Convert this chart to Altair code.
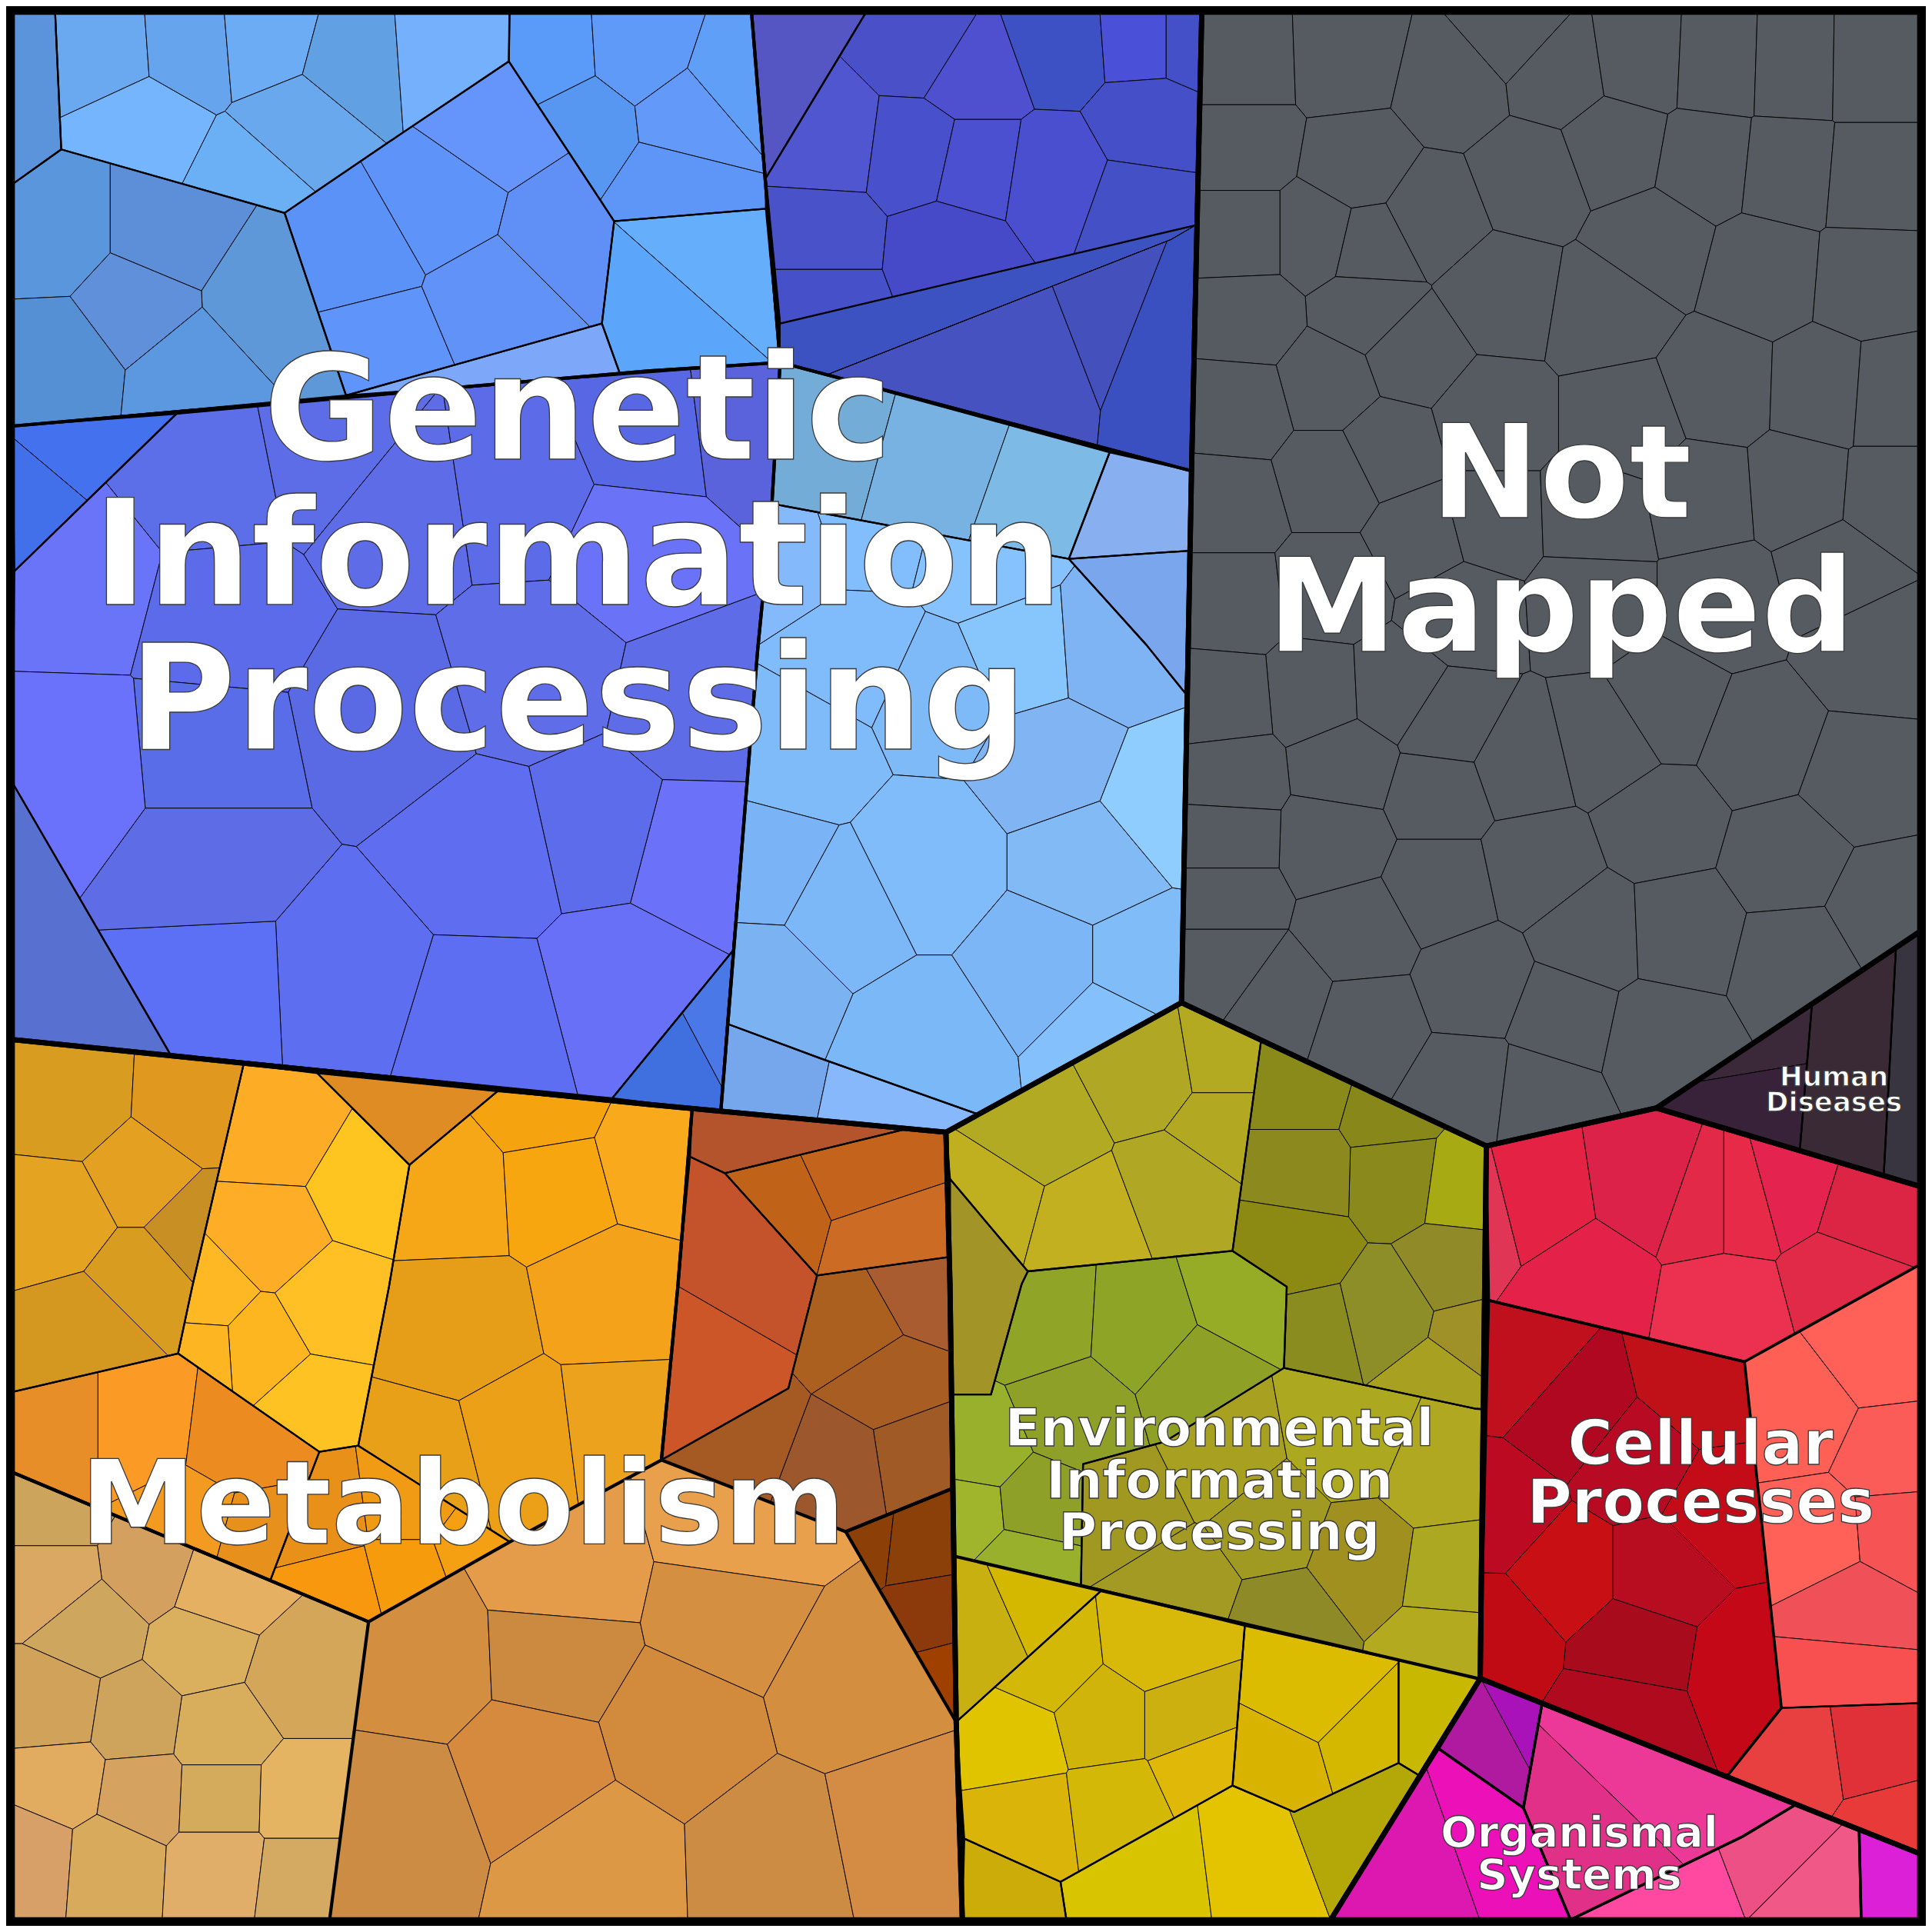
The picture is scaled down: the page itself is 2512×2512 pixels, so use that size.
import altair as alt

# ---------------- geometry scale (reference drawn on a 1568 grid) ----------------
GRID = 1568
SIZE = 2496
S = SIZE / GRID

FRAME = [(0, 0), (1568, 0), (1568, 1568), (0, 1568)]

# ---------------- top-level categories ----------------
TOP_NAMES = ["Genetic Information Processing", "Not Mapped", "Human Diseases",
             "Cellular Processes", "Organismal Systems",
             "Environmental Information Processing", "Metabolism"]
TOP_POLYS = [
    [(5, 5), (976.6, 5), (968.2, 379.6), (960, 814), (767.6, 919.8), (524, 897), (5, 844)],
    [(976.6, 5), (1563, 5), (1563, 756), (1348, 900), (1209, 931), (960, 814), (968.2, 379.6)],
    [(1348, 900), (1563, 756), (1563, 964)],
    [(1209, 931), (1348, 900), (1563, 964), (1563, 1509), (1204, 1366)],
    [(1204, 1366), (1563, 1509), (1563, 1563), (1082, 1563)],
    [(767.6, 919.8), (960, 814), (1209, 931), (1204, 1366), (1082, 1563), (781, 1563), (776, 1401.5), (770.9, 1043.7)],
    [(5, 844), (524, 897), (767.6, 919.8), (770.9, 1043.7), (776, 1401.5), (781, 1563), (5, 1563)],
]

# ---------------- intermediate groups ----------------
MID_POLYS = [
    [(5, 5), (608.8, 5), (632.2, 291), (524, 298), (5, 343)],
    [(608.8, 5), (976.6, 5), (968.2, 379.6), (632.2, 291)],
    [(5, 343), (524, 298), (632.2, 291), (625.5, 406.4), (613.8, 526.2), (583.7, 903), (524, 897), (5, 844)],
    [(632.2, 291), (968.2, 379.6), (960, 814), (767.6, 919.8), (583.7, 903), (613.8, 526.2), (625.5, 406.4)],
    [(774, 1266), (1204.2, 1366.4), (1082, 1563), (781, 1563), (776, 1401.5)],
    [(5, 844), (560.3, 900.5), (548.6, 1046.1), (535.2, 1187.5), (411.3, 1254.4), (296, 1319.6), (5, 1197.5)],
    [(560.3, 900.5), (767.6, 919.8), (770.9, 1043.7), (772.6, 1210.9), (685.7, 1246), (535.2, 1187.5), (548.6, 1046.1)],
    [(685.7, 1246), (772.6, 1210.9), (776, 1401.5)],
    [(5, 1197.5), (296, 1319.6), (264.2, 1563), (5, 1563)],
]

# ---------------- sub-categories: outline, cell seeds, cell colours ----------------
GIP_REGIONS = [
    dict(poly=[(5, 5), (40, 5), (45, 117), (5, 145.5)], seeds=[(22, 70)], colors=["#5b94db"]),
    dict(poly=[(40, 5), (411, 5), (410.6, 45.1), (321, 105.3), (227.4, 168.9), (45, 117)],
         seeds=[(80, 35), (110, 100), (150, 30), (210, 25), (240, 100), (200, 145), (285, 45), (355, 40)],
         colors=["#6aa9f0", "#75b5fd", "#66a4ee", "#6cacf4", "#6aa8ee", "#6bb0f4", "#62a0e4", "#74b0fc"]),
    dict(poly=[(5, 145.5), (45, 117), (227.4, 168.9), (277.6, 318), (5, 343)],
         seeds=[(40, 185), (130, 185), (215, 240), (105, 245), (45, 290), (150, 300)],
         colors=["#5a96dc", "#5d8fd8", "#5e98d8", "#6090da", "#5590d5", "#5c98e0"]),
    dict(poly=[(227.4, 168.9), (321, 105.3), (410.6, 45.1), (496.6, 175.6), (486.6, 259.2), (277.6, 318)],
         seeds=[(285, 200), (355, 160), (305, 280), (400, 240), (398, 98), (455, 185)],
         colors=["#5b92f8", "#5e94fa", "#5f95fa", "#6092f8", "#6595fa", "#608ff5"]),
    dict(poly=[(277.6, 318), (486.6, 259.2), (501.6, 301)], seeds=[(420, 292)], colors=["#7da8fa"]),
    dict(poly=[(411.3, 5), (608.8, 5), (620.5, 140.4), (620.5, 165.5), (496.6, 175.6), (410.6, 45.1)],
         seeds=[(440, 40), (520, 35), (470, 100), (560, 90), (545, 150), (595, 60)],
         colors=["#5a9af8", "#5f9af8", "#5797f2", "#6399f8", "#5e96f8", "#609ff8"]),
    dict(poly=[(496.6, 175.6), (620.5, 165.5), (632.2, 291), (501.6, 301), (486.6, 259.2)],
         seeds=[(591, 220), (551, 265)], colors=["#64aefc", "#5ba6fb"]),
    dict(poly=[(608.8, 5), (702.4, 5), (620.5, 140.4)], seeds=[(640, 40)], colors=["#5556c4"]),
    dict(poly=[(702.4, 5), (976.6, 5), (971.6, 178.9), (632.2, 259.2), (620.5, 140.4)],
         seeds=[(750, 30), (670, 110), (860, 30), (790, 55), (930, 25), (965, 25), (745, 120), (790, 130),
                (855, 140), (935, 95), (925, 165), (665, 190), (665, 240), (770, 200)],
         colors=["#4a50c8", "#5055d0", "#3d50c4", "#4e50d0", "#4a50d8", "#4450c8", "#4850cc", "#4a50d0",
                 "#4a4fcf", "#4550c8", "#4451c6", "#4a52c9", "#4650c8", "#4649c8"]),
    dict(poly=[(632.2, 259.2), (971.6, 178.9), (951.5, 190.6), (670.6, 301), (632.2, 291)],
         seeds=[(800, 230)], colors=["#3c52c0"], w=0.9),
    dict(poly=[(670.6, 301), (951.5, 190.6), (971.6, 178.9), (968.2, 379.6)],
         seeds=[(852.8, 276.6), (888, 263), (944, 285)], colors=["#4652c0", "#4450bc", "#3a50c0"], w=0.9),
    dict(poly=[(5, 343), (139, 333), (6.7, 461.6)], seeds=[(60, 360), (22, 405)], colors=["#4471ee", "#4270ea"]),
    dict(poly=[(5, 634), (134, 856), (5, 844)], seeds=[(45, 780)], colors=["#5870d0"]),
    dict(poly=[(495, 892), (594, 771), (584, 903)], seeds=[(545, 865), (592, 840)], colors=["#4070e0", "#4a78e6"]),
    dict(poly=[(139, 333), (524, 298), (632.2, 291), (625.5, 406.4), (613.8, 526.2), (594, 771), (495, 892),
               (134, 856), (5, 634), (6.7, 461.6)],
         seeds=[(165, 385), (60, 470), (175, 500), (265, 365), (320, 410), (310, 580), (420, 395), (525, 350),
                (605, 340), (515, 440), (430, 545), (565, 575), (562, 690), (485, 670), (395, 690), (505, 800),
                (390, 830), (275, 795), (170, 800), (165, 700), (165, 610), (55, 620)],
         colors=["#5d6ee9", "#6a74f8", "#5c6bea", "#5d6de8", "#5f6ce8", "#5a6ae5", "#5c6ce8", "#5868e4",
                 "#5b63dc", "#6a72f7", "#5f6de9", "#5e6ce8", "#6b72f9", "#5c6ceb", "#5f6ef0", "#6870f7",
                 "#5d6ef2", "#5e6ef0", "#5b70f5", "#5e6ce6", "#5a6de8", "#6a72fb"]),
    dict(poly=[(632.2, 291), (901.3, 364.5), (868, 451.5), (625.5, 406.4)],
         seeds=[(668, 350), (760, 375), (845, 405)], colors=["#74acd8", "#77b2e2", "#7ebae6"]),
    dict(poly=[(901.3, 364.5), (968.2, 379.6), (966.6, 444.8), (868, 451.5)], seeds=[(925, 410)], colors=["#88b0f0"]),
    dict(poly=[(868, 451.5), (966.6, 444.8), (963.2, 561.3), (931.4, 521.8)], seeds=[(940, 490)], colors=["#7aa6ee"]),
    dict(poly=[(588.7, 831.1), (665.6, 859.6), (792.7, 904.7), (767.6, 919.8), (583.7, 903)],
         seeds=[(620, 875), (715, 895)], colors=["#76a6ec", "#88b8fc"]),
    dict(poly=[(625.5, 406.4), (868, 451.5), (931.4, 521.8), (963.2, 561.3), (960, 814), (792.7, 904.7),
               (665.6, 859.6), (588.7, 831.1), (613.8, 526.2)],
         seeds=[(640, 445), (700, 425), (800, 450), (695, 530), (760, 560), (830, 530), (900, 525), (650, 610),
                (625, 705), (680, 735), (750, 700), (855, 615), (885, 700), (750, 850), (850, 785), (925, 785),
                (900, 835), (945, 650), (620, 795)],
         colors=["#84bafc", "#82befd", "#86c2fd", "#80bcfb", "#7ebaf8", "#86c6fd", "#7eb4f4", "#7fbaf9",
                 "#7ab4f6", "#7cb8f8", "#80bcfa", "#80b4f2", "#82baf6", "#7ab8f8", "#7cb6f6", "#80bcf8",
                 "#84c0fb", "#8ecdfd", "#7ab2f2"]),
]

NM_SEEDS = [
    (1010, 47), (1094, 44), (1181, 64), (1231, 20), (1268, 54), (1335, 44), (1398, 47), (1460, 49), (1525, 50),
    (1010, 114), (1104, 130), (1164, 171), (1244, 140), (1315, 114), (1388, 127), (1455, 134), (1525, 140),
    (1010, 187), (1071, 187), (1114, 197), (1111, 248), (1221, 234), (1308, 248), (1345, 194), (1435, 217), (1522, 224),
    (1013, 254), (1147, 284), (1081, 308), (1211, 338), (1325, 338), (1398, 311), (1485, 314), (1539, 318),
    (1007, 328), (1081, 385), (1129, 361), (1157, 435), (1211, 421), (1298, 418), (1385, 401), (1465, 395), (1539, 401),
    (1000, 408), (1000, 485), (1081, 475), (1188, 492), (1295, 485), (1402, 485), (1495, 462), (1525, 525),
    (1071, 562), (1134, 559), (1178, 587), (1236, 619), (1308, 602), (1355, 572), (1432, 602), (1515, 632), (993, 569),
    (1094, 619), (1171, 642), (1000, 629), (1084, 682), (1171, 719), (1251, 702), (1351, 666), (1455, 696),
    (1535, 736), (997, 679),
    (997, 729), (1104, 756), (1201, 799), (1295, 759), (1368, 756), (1462, 779), (997, 779), (1040, 810),
    (1111, 833), (1194, 883), (1251, 890), (1271, 826), (1351, 843),
]
NM_REGIONS = [dict(poly=TOP_POLYS[1], seeds=NM_SEEDS, colors=["#565b61"], w=0.9)]

HD_REGIONS = [
    dict(poly=[(1348, 900), (1475, 815), (1465, 934.8)], seeds=[(1428, 840), (1438, 900)],
         colors=["#3b2838", "#38223a"]),
    dict(poly=[(1475, 815), (1543.6, 769), (1533.6, 955.3), (1465, 934.8)], seeds=[(1505, 875)], colors=["#3a2a36"]),
    dict(poly=[(1543.6, 769), (1563, 756), (1563, 964), (1533.6, 955.3)], seeds=[(1550, 860)], colors=["#383440"]),
]

CP_REGIONS = [
    dict(poly=[(1209, 931), (1348, 900), (1563, 964), (1563, 1028), (1419.9, 1107.2), (1210.9, 1057.1)], w=3.6,
         seeds=[(1205, 985), (1245, 975), (1345, 960), (1388, 975), (1418, 975), (1455, 965), (1520, 985),
                (1290, 1045), (1405, 1065), (1500, 1040)],
         colors=["#e03555", "#e42244", "#dc2248", "#e22a48", "#e62a48", "#e4244e", "#dc2444", "#e42249",
                 "#ec3050", "#e02a48"]),
    dict(poly=[(1419.9, 1107.2), (1563, 1028), (1563, 1386), (1450, 1390)],
         seeds=[(1465, 1150), (1530, 1100), (1540, 1185), (1480, 1250), (1545, 1245), (1510, 1310), (1505, 1365)],
         colors=["#ff6055", "#ff6058", "#fc5c58", "#ff6058", "#f65454", "#f05058", "#f85050"]),
    dict(poly=[(1405, 1446.5), (1450, 1390), (1563, 1386), (1563, 1509)],
         seeds=[(1460, 1430), (1530, 1420), (1548, 1490)], colors=["#e84040", "#e03038", "#e83a38"]),
    dict(poly=[(1210.9, 1057.1), (1419.9, 1107.2), (1450, 1390), (1405, 1446.5), (1204, 1366)], w=3.6,
         seeds=[(1235, 1110), (1280, 1150), (1220, 1230), (1385, 1125), (1330, 1190), (1400, 1230), (1275, 1280),
                (1350, 1280), (1330, 1340), (1425, 1355), (1218, 1330), (1320, 1395)],
         colors=["#c0101e", "#b00820", "#bc0a22", "#c01018", "#b80a22", "#c40c18", "#c81014", "#b80c20",
                 "#a80c1c", "#c40818", "#c00a14", "#b00a1e"]),
]

OS_REGIONS = [
    dict(poly=[(1204, 1366), (1254.4, 1387), (1239.3, 1471.7), (1170, 1423.3)], w=3.4,
         seeds=[(1212, 1411), (1238, 1397)], colors=["#b01aa0", "#a812b8"]),
    dict(poly=[(1170, 1423.3), (1239.3, 1471.7), (1277.8, 1563), (1082, 1563)], w=3.4,
         seeds=[(1153, 1510), (1210, 1490)], colors=["#dc18b0", "#ec10b8"]),
    dict(poly=[(1254.4, 1387), (1461.7, 1469), (1418.2, 1495.1), (1277.8, 1563), (1239.3, 1471.7)], w=3.4,
         seeds=[(1334, 1427), (1278, 1485)], colors=["#ec3896", "#e03088"]),
    dict(poly=[(1277.8, 1563), (1418.2, 1495.1), (1461.7, 1469), (1513.5, 1490), (1515.2, 1563)], w=3.4,
         seeds=[(1350, 1535), (1455, 1495), (1490, 1530)], colors=["#ff48a0", "#ec5084", "#f05888"]),
    dict(poly=[(1513.5, 1490), (1563, 1509), (1563, 1563), (1515.2, 1563)], w=3.4,
         seeds=[(1540, 1530)], colors=["#dc20d8"]),
]

EIP_REGIONS = [
    dict(poly=[(767.6, 919.8), (960, 814), (1025, 845), (1001.7, 1016.7), (834.5, 1033.4), (771, 958)],
         seeds=[(840, 920), (935, 870), (995, 860), (805, 975), (880, 995), (960, 965), (995, 915)],
         colors=["#b2aa22", "#b0a824", "#b4aa22", "#c0b020", "#c2b020", "#b0a824", "#b2a822"]),
    dict(poly=[(771, 958), (834.5, 1033.4), (829.5, 1043.7), (804.4, 1134), (771, 1134)],
         seeds=[(795, 1060)], colors=["#a39428"]),
    dict(poly=[(1025, 845), (1209, 931), (1206.7, 1146), (1200.9, 1145.7), (1043.7, 1112.3), (1046, 1046), (1001.7, 1016.7)],
         seeds=[(1060, 885), (1130, 905), (1135, 952), (1193, 960), (1060, 950), (1050, 1015), (1185, 1035),
                (1065, 1085), (1130, 1070), (1197, 1085), (1170, 1122)],
         colors=["#8a8a1a", "#88881a", "#8a8a1c", "#a8aa14", "#8c8a1e", "#8c8a12", "#908a28", "#8a8c20",
                 "#8e8e28", "#a09028", "#a8a020"]),
    dict(poly=[(834.5, 1033.4), (1001.7, 1016.7), (1046, 1046), (1043.7, 1112.3), (946.5, 1172.4), (879.6, 1190.8),
               (877.9, 1289.5), (774, 1266), (771, 1134), (804.4, 1134), (829.5, 1043.7)],
         seeds=[(845, 1075), (930, 1080), (1010, 1055), (870, 1150), (975, 1120), (795, 1182), (787, 1230),
                (840, 1225), (830, 1272)],
         colors=["#90a428", "#8ea426", "#96ac26", "#8ea028", "#8ea026", "#98b02c", "#a0b42c", "#8ea028", "#98b02c"]),
    dict(poly=[(879.6, 1190.8), (946.5, 1172.4), (1043.7, 1112.3), (1200.9, 1145.7), (1206.7, 1146),
               (1204.2, 1366.4), (877.9, 1289.5)],
         seeds=[(920, 1225), (990, 1190), (960, 1290), (1030, 1240), (1100, 1170), (1110, 1270), (1170, 1200),
                (1180, 1280), (1175, 1340), (1045, 1320)],
         colors=["#a09820", "#a8a020", "#a29a22", "#a09a22", "#aca820", "#a09020", "#b0a820", "#aca822",
                 "#b4aa20", "#8e8a28"]),
    dict(poly=[(774, 1266), (894.7, 1294), (776, 1401.5)], seeds=[(795, 1320), (840, 1300)],
         colors=["#c8b010", "#d4b800"]),
    dict(poly=[(894.7, 1294), (1011.7, 1322.9), (1001.7, 1453.4), (861.2, 1532), (782.6, 1496.8), (776, 1401.5)],
         seeds=[(850, 1350), (940, 1340), (820, 1420), (900, 1400), (960, 1400), (830, 1480), (910, 1470), (975, 1440)],
         colors=["#d4b808", "#d8b808", "#e0c400", "#d0b40a", "#ccb010", "#dab408", "#d4b808", "#e0b808"]),
    dict(poly=[(1011.7, 1322.9), (1137.3, 1351), (1137.3, 1435), (1052, 1475), (1001.7, 1453.4)],
         seeds=[(1070, 1380), (1040, 1440), (1110, 1420)], colors=["#dcbc00", "#d8b400", "#d4b800"]),
    dict(poly=[(1137.3, 1351), (1204.2, 1366.4), (1154, 1445), (1137.3, 1435)], seeds=[(1160, 1390)],
         colors=["#c8b800"]),
    dict(poly=[(861.2, 1532), (1001.7, 1453.4), (1052, 1475), (1137.3, 1435), (1154, 1445), (1082, 1563), (866, 1563)],
         seeds=[(940, 1530), (1020, 1520), (1100, 1490)], colors=["#d8c400", "#e4c400", "#b4a808"]),
    dict(poly=[(782.6, 1496.8), (861.2, 1532), (866, 1563), (781, 1563)], seeds=[(815, 1535)], colors=["#ccac08"]),
]

MET_REGIONS = [
    dict(poly=[(5, 844), (194, 864), (152, 1046), (140.4, 1100.5), (5, 1132)],
         seeds=[(55, 895), (150, 900), (110, 955), (45, 990), (155, 1000), (110, 1040), (70, 1080)],
         colors=["#d89c20", "#e0981e", "#e4a020", "#e4a422", "#c89024", "#d89c20", "#d49820"]),
    dict(poly=[(5, 1132), (140.4, 1100.5), (255.8, 1180.8), (215.7, 1286), (5, 1197.5)],
         seeds=[(40, 1160), (110, 1160), (190, 1170), (150, 1240), (205, 1255)],
         colors=["#e88e28", "#fc9a26", "#ec8c20", "#f39a20", "#e8901c"]),
    dict(poly=[(194, 864), (254, 871.5), (329.4, 946.5), (312.7, 1046), (287.6, 1175.8), (255.8, 1180.8),
               (140.4, 1100.5), (152, 1046)],
         seeds=[(220, 920), (295, 965), (215, 1005), (163, 1055), (205, 1095), (265, 1060), (250, 1145), (160, 1098)],
         colors=["#fdac26", "#fec520", "#fdad26", "#fdb824", "#fdb620", "#fec024", "#fec222", "#fdb622"]),
    dict(poly=[(254, 871.5), (401.3, 886.3), (329.4, 946.5)], seeds=[(330, 900)], colors=["#e08c24"]),
    dict(poly=[(329.4, 946.5), (401.3, 886.3), (560.3, 900.5), (548.6, 1046.1), (535.2, 1187.5), (411.3, 1254.4),
               (287.6, 1175.8), (312.7, 1046)],
         seeds=[(365, 965), (440, 900), (450, 960), (525, 940), (370, 1080), (495, 1055), (340, 1190), (420, 1170),
                (500, 1160)],
         colors=["#f5a718", "#f5a410", "#f8a610", "#f8aa1c", "#e69e18", "#f4a21a", "#e8a018", "#eca018", "#eca21c"]),
    dict(poly=[(255.8, 1180.8), (287.6, 1175.8), (411.3, 1254.4), (296, 1319.6), (215.7, 1286)],
         seeds=[(255, 1235), (330, 1225), (270, 1295), (330, 1280), (380, 1262)],
         colors=["#e99018", "#f19a14", "#f8980e", "#f59b0c", "#f5a012"]),
    dict(poly=[(560.3, 900.5), (735.8, 917), (587, 953.2), (558.6, 939.8)], seeds=[(600, 920)], colors=["#b4542c"]),
    dict(poly=[(587, 953.2), (735.8, 917), (767.6, 919.8), (770, 1021.7), (662.3, 1036.8)],
         seeds=[(625, 985), (700, 950), (720, 1010)], colors=["#c06218", "#c4641c", "#cc6c24"]),
    dict(poly=[(558.6, 939.8), (587, 953.2), (662.3, 1036.8), (660.6, 1043.7), (638.9, 1129), (535.2, 1187.5),
               (548.6, 1046.1)],
         seeds=[(617, 1039), (577, 1108)], colors=["#c4522a", "#cc5628"]),
    dict(poly=[(662.3, 1036.8), (770, 1021.7), (772.6, 1210.9), (685.7, 1246), (535.2, 1187.5), (638.9, 1129),
               (660.6, 1043.7)],
         seeds=[(695, 1080), (748, 1050), (722, 1122), (745, 1185), (680, 1195), (600, 1165)],
         colors=["#ac6020", "#a85c30", "#a85e22", "#a05a26", "#9c582c", "#a45a22"]),
    dict(poly=[(685.7, 1246), (772.6, 1210.9), (776, 1401.5)],
         seeds=[(700, 1250), (745, 1255), (755, 1315), (768, 1365)],
         colors=["#8c4008", "#8a4008", "#8c3a0c", "#a04000"]),
    dict(poly=[(5, 1197.5), (296, 1319.6), (264.2, 1563), (5, 1563)],
         seeds=[(40, 1230), (115, 1275), (40, 1285), (70, 1322), (175, 1295), (240, 1365), (160, 1340), (175, 1410),
                (40, 1390), (105, 1400), (45, 1450), (110, 1460), (175, 1463), (240, 1465), (20, 1510), (85, 1515),
                (175, 1520), (240, 1528)],
         colors=["#cca45c", "#d4a060", "#daa862", "#cea65e", "#e6b062", "#d4a65a", "#dab05e", "#d8ae5c",
                 "#d0a25a", "#cea45c", "#e2ac60", "#d6a260", "#d4aa5c", "#e4b462", "#d6a068", "#d8aa5c",
                 "#e0ae68", "#d4aa62"]),
    dict(poly=[(296, 1319.6), (411.3, 1254.4), (535.2, 1187.5), (685.7, 1246), (776, 1401.5), (781, 1563), (264.2, 1563)],
         seeds=[(340, 1350), (455, 1285), (600, 1245), (450, 1345), (590, 1315), (690, 1370), (550, 1405),
                (320, 1480), (430, 1440), (480, 1515), (630, 1510), (730, 1490)],
         colors=["#d48e40", "#e49c4a", "#e8a04c", "#cc8a40", "#d49040", "#d48e40", "#d28a3c", "#cc8c44",
                 "#d68a3e", "#dc9844", "#cc8c44", "#d48c44"]),
]

# ---------------- labels (one block per category, lines split at "\n") ----------------
LABEL_TEXT = ["Genetic\nInformation\nProcessing", "Not\nMapped", "Metabolism",
              "Environmental\nInformation\nProcessing", "Cellular\nProcesses",
              "Organismal\nSystems", "Human\nDiseases"]
LABEL_X = [467, 1270, 373, 991, 1384, 1285, 1493]
LABEL_Y = [370, 418, 1256, 1176, 1191, 1503, 882]
LABEL_SIZE = [190, 170, 152, 68, 80, 56, 35.5]
LABEL_GAP = [118.5, 109, 100, 42.5, 48, 35, 21]


# ---------------- Voronoi cells by half-plane clipping ----------------
def clip(poly, a, b, c):
    out = []
    n = len(poly)
    for k in range(n):
        px, py = poly[k]
        qx, qy = poly[(k + 1) % n]
        fp = a * px + b * py - c
        fq = a * qx + b * qy - c
        if fp <= 0:
            out.append((px, py))
        if (fp <= 0) != (fq <= 0):
            t = fp / (fp - fq)
            out.append((px + t * (qx - px), py + t * (qy - py)))
    return out


def voronoi(poly, seeds):
    cells = []
    for i, (sx, sy) in enumerate(seeds):
        cell = list(poly)
        for j, (tx, ty) in enumerate(seeds):
            if i == j or len(cell) < 3:
                continue
            a = 2 * (tx - sx)
            b = 2 * (ty - sy)
            c = tx * tx + ty * ty - sx * sx - sy * sy
            cell = clip(cell, a, b, c)
        cells.append(cell)
    return cells


def feature(ring, **props):
    coords = [[round(float(x), 2), round(float(y), 2)] for x, y in ring]
    coords.append(coords[0])
    return {"type": "Feature", "geometry": {"type": "Polygon", "coordinates": [coords]}, "properties": props}


ALL_REGIONS = GIP_REGIONS + NM_REGIONS + HD_REGIONS + CP_REGIONS + OS_REGIONS + EIP_REGIONS + MET_REGIONS

leaf_features = []
region_features = []
for reg in ALL_REGIONS:
    cols = reg["colors"]
    for k, cell in enumerate(voronoi(reg["poly"], reg["seeds"])):
        if len(cell) >= 3:
            leaf_features.append(feature(cell, fill=cols[k % len(cols)]))
    region_features.append(feature(reg["poly"], w=reg.get("w", 2.3)))

mid_features = [feature(p) for p in MID_POLYS]
top_features = [feature(p, name=n) for p, n in zip(TOP_POLYS, TOP_NAMES)]
frame_features = [feature(FRAME)]

proj = dict(type="identity", scale=S, translate=[0, 0])

bg = alt.Chart(alt.Data(values=frame_features)).mark_geoshape(
    stroke="black", strokeWidth=0).encode(fill=alt.value("black")).project(**proj)

cells_layer = alt.Chart(alt.Data(values=leaf_features)).mark_geoshape(
    stroke="black", strokeWidth=0.9, strokeJoin="round").encode(
    fill=alt.Fill("properties.fill:N", scale=None)).project(**proj)

regions_layer = alt.Chart(alt.Data(values=region_features)).mark_geoshape(
    filled=False, stroke="black", strokeJoin="round").encode(
    strokeWidth=alt.StrokeWidth("properties.w:Q", scale=None)).project(**proj)

mid_layer = alt.Chart(alt.Data(values=mid_features)).mark_geoshape(
    filled=False, stroke="black", strokeWidth=4.2, strokeJoin="round").encode(
    stroke=alt.value("black")).project(**proj)

top_layer = alt.Chart(alt.Data(values=top_features)).mark_geoshape(
    filled=False, stroke="black", strokeWidth=6.8, strokeJoin="round").encode(
    stroke=alt.value("black")).project(**proj)

text_layers = []
for t, x, y, fs, gap in zip(LABEL_TEXT, LABEL_X, LABEL_Y, LABEL_SIZE, LABEL_GAP):
    text_layers.append(
        alt.Chart(alt.Data(values=[dict(text=t, lon=x, lat=y)])).mark_text(
            font="DejaVu Sans", fontWeight="bold", align="center", baseline="alphabetic",
            fontSize=fs, lineBreak="\n", lineHeight=gap * S,
            fill="white", stroke="#3a3a3a", strokeWidth=1.3).encode(
            longitude="lon:Q", latitude="lat:Q", text="text:N").project(**proj)
    )

chart = alt.layer(bg, cells_layer, regions_layer, mid_layer, top_layer, *text_layers).properties(
    width=SIZE, height=SIZE, padding=0,
    autosize=alt.AutoSizeParams(type="none"),
).configure_view(stroke=None)

chart.save("out.html", embed_options={"renderer": "svg", "actions": False})
